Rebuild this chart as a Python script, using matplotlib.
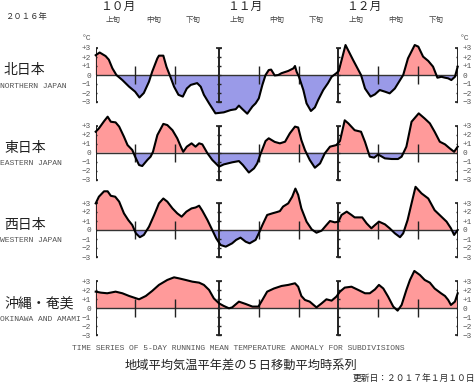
import matplotlib
matplotlib.use("Agg")
import matplotlib.pyplot as plt

W, H = 476, 382

# ---- data: day offset from Oct 1 2016, 5-day running mean anomaly (degC)
north_days = [0,1,2.5,3.3,4.2,5.2,6.7,8.4,9.9,11,
              12.1,13.4,14.2,15.5,15.9,17,17.8,18.6,19.7,20.8,
              21.9,22.9,23.9,25.5,26.4,27.2,28.5,30.1,32.2,33.9,
              35.2,36,36.9,38.1,39.4,40.2,41,41.9,42.7,43.5,
              44.1,45,45.9,46.7,48.4,49.7,50.1,50.5,51.1,52.2,
              53,54.1,55.1,55.9,57.2,58.4,59.3,60.5,61.1,62.8,
              64.7,66.7,67.7,69.1,70.2,71.4,72.7,73.9,75.2,77.3,
              78.5,80.2,81.1,82.3,83.6,84.8,85.9,86.9,87.8,88.6,
              89.4,90.3,91]
north_vals = [2.2,2.5,2.1,1.7,0.74,0,-0.56,-1.3,-1.85,-2.5,
              -2.0,-0.74,0.37,1.85,2.15,2.15,0.9,0,-1.3,-2.2,
              -2.4,-1.5,-1.1,-0.9,-1.3,-2.2,-3.15,-4.26,-4.15,-3.9,
              -3.8,-3.4,-3.8,-4.3,-3.5,-3.15,-2.6,-1.1,0,0.55,
              0.6,-0.05,0,0.2,0.45,0.74,1.0,0.37,-0.2,-1.67,
              -3.15,-4.0,-3.6,-2.8,-1.67,-0.9,-0.2,0.2,0.45,3.33,
              1.67,0,-1.5,-2.4,-2.15,-1.67,-1.85,-2.04,-1.5,0,
              1.85,3.33,3.15,2.04,1.56,0.93,-0.3,-0.2,-0.3,-0.37,
              -0.56,-0.2,0.93]

east_days = [0,0.8,2.1,3,3.8,5,5.9,7.1,8,9.2,
             9.9,10.9,11.7,13,13.8,14.4,15.5,17,18,19.3,
             20.5,21.4,22,22.9,24.1,25.1,26,26.8,28.1,29.3,
             31,32.2,34.3,36,37,38.5,39.8,40.6,41.5,42.7,
             43.5,45,46.3,47.6,48.8,50.1,50.9,51.7,52.6,53.8,
             55.1,56.4,57.6,58.9,60.5,61.4,62.6,63.5,65.1,66.7,
             67.7,68.9,70,71,72.7,74.4,76,76.9,78.1,79.4,
             81.2,82.7,84,85.2,86.5,87.8,89,90.1,91]
east_vals = [2.33,2.7,3.5,4.0,3.44,3.37,2.9,1.78,0.85,0.3,
             -0.44,-1.37,-1.48,-0.8,-0.44,0.1,1.96,3.2,3.07,2.5,
             1.6,0.67,0.1,0.67,1.04,0.67,1.04,0.93,-0.07,-0.8,
             -1.55,-1.3,-1.07,-0.93,-1.37,-2.2,-1.74,-1.19,-0.07,1.3,
             1.6,1.2,1.04,1.22,2.15,2.9,2.8,1.4,0.3,-0.8,
             -1.67,-1.19,-0.07,0.67,0.85,1.3,3.6,3.26,2.5,2.33,
             1.2,-0.44,-0.55,-0.2,-0.63,-0.7,-0.7,-0.44,0.67,3.44,
             4.37,3.8,3.26,2.33,1.22,0.93,0.48,0.1,0.67]

west_days = [0,0.8,2.1,3,3.8,4.9,5.9,7.1,8.2,9.2,
             10.1,11.1,12.1,13.4,14.7,15.9,17,18,19.3,20.5,
             21.6,22.8,24.1,25.1,26,26.8,28.1,29.3,30.3,31.4,
             32.7,34.3,35.3,36.4,37.7,38.7,40.2,41,41.9,43.1,
             44.4,45.6,46.3,47.1,48.4,49.4,50.2,50.9,51.7,53,
             54.3,55.5,56.8,58,58.9,60.1,61,61.8,63.1,64.3,
             65.1,67,68.1,69.3,70.2,71.2,72.7,73.9,75.2,76.5,
             77.3,78.4,79.4,80.4,81.9,83.6,85.2,86.9,88.2,89.3,
             90.1,91]
west_vals = [2.96,3.7,4.3,4.3,3.8,3.7,3.15,1.85,1.1,0.55,
             -0.37,-0.8,-0.55,0.37,1.67,2.96,3.5,3.15,2.4,1.85,
             1.48,2.04,2.4,2.5,2.7,2.15,1.1,0,-0.93,-1.67,
             -1.85,-1.48,-1.1,-0.85,-1.3,-1.48,-1.1,-0.37,0.55,1.67,
             1.85,2.0,2.1,2.6,2.96,3.7,4.6,3.9,2.4,0.93,
             0.07,-0.3,-0.07,0.55,1.0,0.85,0.93,1.67,2.04,1.67,
             1.4,1.4,0.74,0.19,0.55,0.93,0.63,0.19,-0.37,-0.8,
             -0.37,1.1,2.96,4.8,4.07,3.5,2.2,1.48,0.93,0.19,
             -0.55,0]

okinawa_days = [0,1.3,2.9,5,6.7,8.4,10.9,12.6,14.2,15.9,
                18,19.7,20.9,22.6,24.3,26,27.2,28.5,29.7,31,
                32.2,33.5,34.3,36,37.7,39.4,40.9,41.9,43.1,44.8,
                46.7,48.4,50.1,50.9,51.7,52.6,53.8,55.5,56.8,58,
                59.3,60.5,61.4,62.6,64.3,66,67.7,68.9,70.2,71.2,
                72.3,73.5,74.8,75.9,76.9,78.1,79,80.1,81.5,82.7,
                84,85.2,86.8,87.8,88.6,89.3,90.3,91]
okinawa_vals = [1.85,1.74,1.67,1.85,1.67,1.37,1.0,1.37,1.93,2.6,
                3.15,3.44,3.33,3.15,2.96,2.85,2.6,2.04,1.1,0.55,
                0.26,0,0.1,0.74,0.48,0.19,0.19,0.93,1.85,2.2,
                2.48,2.6,2.78,2.4,1.37,0.93,0.74,0.1,0.55,1.0,
                0.85,1.3,1.85,2.3,2.4,2.04,1.67,1.67,2.1,2.6,
                2.2,1.3,0.19,-0.26,0.37,2.04,3.15,4.15,3.7,3.15,
                2.85,2.2,1.67,1.37,0.93,0.37,0.74,1.67]

regions_jp = ["北日本", "東日本", "西日本", "沖縄・奄美"]
regions_en = ["NORTHERN JAPAN", "EASTERN JAPAN", "WESTERN JAPAN", "OKINAWA AND AMAMI"]
series_days = [north_days, east_days, west_days, okinawa_days]
series_vals = [north_vals, east_vals, west_vals, okinawa_vals]

month_labels = ["１０月", "１１月", "１２月"]
month_start_days = [0, 31, 61]
last_day = 91
decade_labels = ["上旬", "中旬", "下旬"]
decade_tick_days = [10, 20, 41, 51, 71, 81]
ytick_vals = [-3, -2, -1, 0, 1, 2, 3]
ytick_labels = ["−3", "−2", "−1", "0", "+1", "+2", "+3"]

JP = ["Noto Sans CJK JP", "DejaVu Sans"]
MONO = ["Liberation Mono", "DejaVu Sans Mono"]
RED = "#ff9a9a"
BLUE = "#9a9ae8"
AX = "#222222"

fig = plt.figure(figsize=(W / 100, H / 100), dpi=100)
fig.patch.set_facecolor("white")

def ftext(x, y, s, **kw):
    fig.text(x / W, 1 - y / H, s, **kw)

x0_px, x1_px = 95.7, 457.7
zeros_px = [75.0, 152.7, 230.0, 308.3]
ax_h = 77.0
px_per_deg = 9.0
half = ax_h / 2 / px_per_deg

for i in range(4):
    z = zeros_px[i]
    ax = fig.add_axes([x0_px / W, (H - (z + ax_h / 2)) / H,
                       (x1_px - x0_px) / W, ax_h / H])
    ax.set_xlim(0, last_day)
    ax.set_ylim(-half, half)
    ax.patch.set_alpha(0)
    for s in ax.spines.values():
        s.set_visible(False)
    ax.set_xticks([])
    ax.set_yticks(ytick_vals)
    ax.set_yticklabels(ytick_labels)
    ax.tick_params(axis="y", length=0, pad=3.2, labelsize=5.6,
                   labelcolor="#555555", left=True, right=True,
                   labelleft=True, labelright=True)
    for lab in ax.get_yticklabels():
        lab.set_family(MONO)

    d = series_days[i]
    v = series_vals[i]
    ax.fill_between(d, v, 0, where=[y >= 0 for y in v], interpolate=True,
                    color=RED, lw=0, clip_on=False, zorder=1)
    ax.fill_between(d, v, 0, where=[y <= 0 for y in v], interpolate=True,
                    color=BLUE, lw=0, clip_on=False, zorder=1)
    ax.axhline(0, color="#333333", lw=1.0, zorder=2)
    ax.plot(d, v, color="black", lw=1.5, clip_on=False, zorder=4,
            solid_joinstyle="round")

    for md in month_start_days + [last_day]:
        ax.vlines(md, -3, 3, color=AX, lw=1.4, zorder=3)
        ax.hlines(ytick_vals, md - 0.45, md + 0.45, color=AX, lw=1.0, zorder=3)
        ax.hlines([-3, 3], md - 0.7, md + 0.7, color=AX, lw=1.2, zorder=3)
    ax.vlines(decade_tick_days, -1, 1, color=AX, lw=1.0, zorder=3)

    if i == 0:
        ax.text(-1.2, 4.0, "°C", ha="right", va="center", fontsize=5.8,
                color="#555555", family=MONO)
        ax.text(91.4, 4.0, "°C", ha="left", va="center", fontsize=5.8,
                color="#555555", family=MONO)

    ftext(4, z - 5, regions_jp[i], ha="left", va="center", fontsize=10,
          family=JP, color="#222222")
    ftext(0, z + 11, regions_en[i], ha="left", va="center", fontsize=5.8,
          family=MONO, color="#555555")

# header texts
ftext(5, 17, "２０１６年", ha="left", va="center", fontsize=6, family=JP,
      color="#333333")
px_per_day = (x1_px - x0_px) / last_day
month_label_x = [100, 227, 346]
for lab, mx in zip(month_labels, month_label_x):
    ftext(mx, 6, lab, ha="left", va="center", fontsize=8.5, family=JP,
          color="#222222")
for md in month_start_days:
    for k, dl in enumerate(decade_labels):
        cx = x0_px + (md + 10 * k + 4.5) * px_per_day
        ftext(cx, 20, dl, ha="center", va="center", fontsize=5.4, family=JP,
              color="#444444")

# footer texts
ftext(238, 348, "TIME SERIES OF 5-DAY RUNNING MEAN TEMPERATURE ANOMALY FOR SUBDIVISIONS",
      ha="center", va="center", fontsize=5.8, family=MONO, color="#555555")
ftext(241, 365, "地域平均気温平年差の５日移動平均時系列", ha="center",
      va="center", fontsize=8.8, family=JP, color="#222222")
ftext(475, 378, "更新日：２０１７年１月１０日", ha="right", va="center",
      fontsize=6.3, family=JP, color="#222222")

fig.savefig("out.png", dpi=100, facecolor="white")
